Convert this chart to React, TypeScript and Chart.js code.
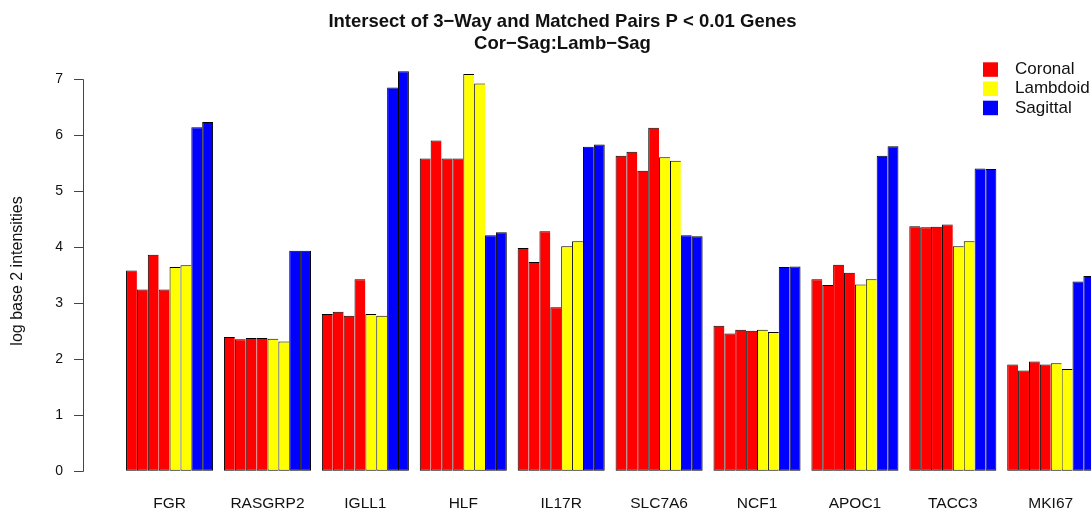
import React, { useEffect, useRef } from "react";
import { Chart, registerables } from "chart.js";

Chart.register(...registerables);

const genes = ["FGR", "RASGRP2", "IGLL1", "HLF", "IL17R", "SLC7A6", "NCF1", "APOC1", "TACC3", "MKI67"];

const coronal1 = [3.58, 2.39, 2.80, 5.58, 3.98, 5.63, 2.59, 3.42, 4.37, 1.90];
const coronal2 = [3.24, 2.35, 2.84, 5.90, 3.73, 5.70, 2.45, 3.32, 4.35, 1.79];
const coronal3 = [3.86, 2.37, 2.77, 5.58, 4.28, 5.36, 2.52, 3.68, 4.36, 1.95];
const coronal4 = [3.24, 2.37, 3.42, 5.58, 2.92, 6.13, 2.50, 3.54, 4.40, 1.90];
const lambdoid1 = [3.64, 2.36, 2.80, 7.09, 4.01, 5.60, 2.52, 3.33, 4.01, 1.92];
const lambdoid2 = [3.67, 2.31, 2.77, 6.92, 4.10, 5.54, 2.48, 3.42, 4.10, 1.82];
const sagittal1 = [6.14, 3.93, 6.85, 4.21, 5.79, 4.21, 3.64, 5.63, 5.40, 3.38];
const sagittal2 = [6.23, 3.93, 7.14, 4.26, 5.83, 4.19, 3.65, 5.80, 5.39, 3.48];

const legendLabels = ["Coronal", "Lambdoid", "Sagittal"];
const legendColors = ["#FF0000", "#FFFF00", "#0000FF"];
const yTicks = [0, 1, 2, 3, 4, 5, 6, 7];
const titleLines = ["Intersect of 3\u2212Way and Matched Pairs P < 0.01 Genes", "Cor\u2212Sag:Lamb\u2212Sag"];
const yAxisTitle = "log base 2 intensities";

const FONT = '"Liberation Sans", Arial, Helvetica, sans-serif';

const seriesList = [
  { data: coronal1, group: 0 },
  { data: coronal2, group: 0 },
  { data: coronal3, group: 0 },
  { data: coronal4, group: 0 },
  { data: lambdoid1, group: 1 },
  { data: lambdoid2, group: 1 },
  { data: sagittal1, group: 2 },
  { data: sagittal2, group: 2 },
];

const rDecor = {
  id: "rDecor",
  afterDraw(chart: any) {
    const ctx = chart.ctx;
    const y = chart.scales.y;
    ctx.save();
    ctx.strokeStyle = "#444";
    ctx.lineWidth = 1;
    const axisX = 83.5;
    const top = Math.round(y.getPixelForValue(yTicks[yTicks.length - 1])) + 0.5;
    const bottom = Math.round(y.getPixelForValue(yTicks[0])) + 0.5;
    ctx.beginPath();
    ctx.moveTo(axisX, top);
    ctx.lineTo(axisX, bottom);
    yTicks.forEach((v) => {
      const py = Math.round(y.getPixelForValue(v)) + 0.5;
      ctx.moveTo(74, py);
      ctx.lineTo(axisX, py);
    });
    ctx.stroke();

    ctx.font = "17px " + FONT;
    ctx.textBaseline = "middle";
    ctx.textAlign = "left";
    legendLabels.forEach((label, i) => {
      const cy = 69.5 + i * 19.2;
      ctx.fillStyle = legendColors[i];
      ctx.fillRect(983, cy - 7.2, 15, 14.5);
      ctx.fillStyle = "#111";
      ctx.fillText(label, 1015, cy);
    });
    ctx.restore();
  },
};

export default function App() {
  const canvasRef = useRef<HTMLCanvasElement | null>(null);

  useEffect(() => {
    if (!canvasRef.current) return;
    const datasets = seriesList.map((s, i) => ({
      label: legendLabels[s.group],
      data: s.data,
      backgroundColor: legendColors[s.group],
      borderColor: "#000",
      borderWidth: { top: 1, left: 1, bottom: 1, right: i === seriesList.length - 1 ? 1 : 0 },
      borderSkipped: false as any,
      categoryPercentage: 8 / 9,
      barPercentage: 1,
    }));

    const chart = new Chart(canvasRef.current, {
      type: "bar",
      data: { labels: genes, datasets },
      options: {
        responsive: false,
        animation: false,
        devicePixelRatio: 1,
        layout: { padding: 0, autoPadding: false },
        plugins: {
          legend: { display: false },
          tooltip: { enabled: false },
          title: {
            display: true,
            text: titleLines,
            color: "#111",
            font: { family: FONT, size: 18.5, weight: "bold", lineHeight: 22 / 18.5 },
            padding: { top: 10.5, bottom: 0.7 },
          },
        },
        scales: {
          x: {
            type: "category",
            offset: true,
            grid: { display: false, drawTicks: false },
            border: { display: false },
            ticks: {
              color: "#111",
              font: { family: FONT, size: 15.5 },
              padding: 8,
              maxRotation: 0,
              autoSkip: false,
            },
            afterFit(s: any) {
              s.height = 23.3;
              s.paddingLeft = 0;
              s.paddingRight = 0;
            },
          },
          y: {
            min: -0.2856,
            max: 7.4256,
            grid: { display: false, drawTicks: false },
            border: { display: false },
            afterBuildTicks(s: any) {
              s.ticks = yTicks.map((v) => ({ value: v }));
            },
            ticks: {
              color: "#111",
              font: { family: FONT, size: 14 },
              padding: 57.6,
            },
            title: {
              display: true,
              text: yAxisTitle,
              color: "#111",
              font: { family: FONT, size: 16 },
              padding: { top: 8, bottom: 0 },
            },
            afterFit(s: any) {
              s.width = 120.6;
              s.paddingTop = 0;
              s.paddingBottom = 0;
            },
          },
          y2: {
            position: "right",
            display: true,
            grid: { display: false, drawTicks: false },
            border: { display: false },
            ticks: { display: false },
            afterFit(s: any) {
              s.width = 25.3;
              s.paddingTop = 0;
              s.paddingBottom = 0;
            },
          },
        },
      } as any,
      plugins: [rDecor],
    });
    return () => chart.destroy();
  }, []);

  return (
    <div
      style={{
        position: "fixed",
        left: 0,
        top: 0,
        width: 1091,
        height: 510,
        overflow: "hidden",
        background: "#fff",
      }}
    >
      <canvas ref={canvasRef} width={1125} height={510} style={{ display: "block" }} />
    </div>
  );
}
